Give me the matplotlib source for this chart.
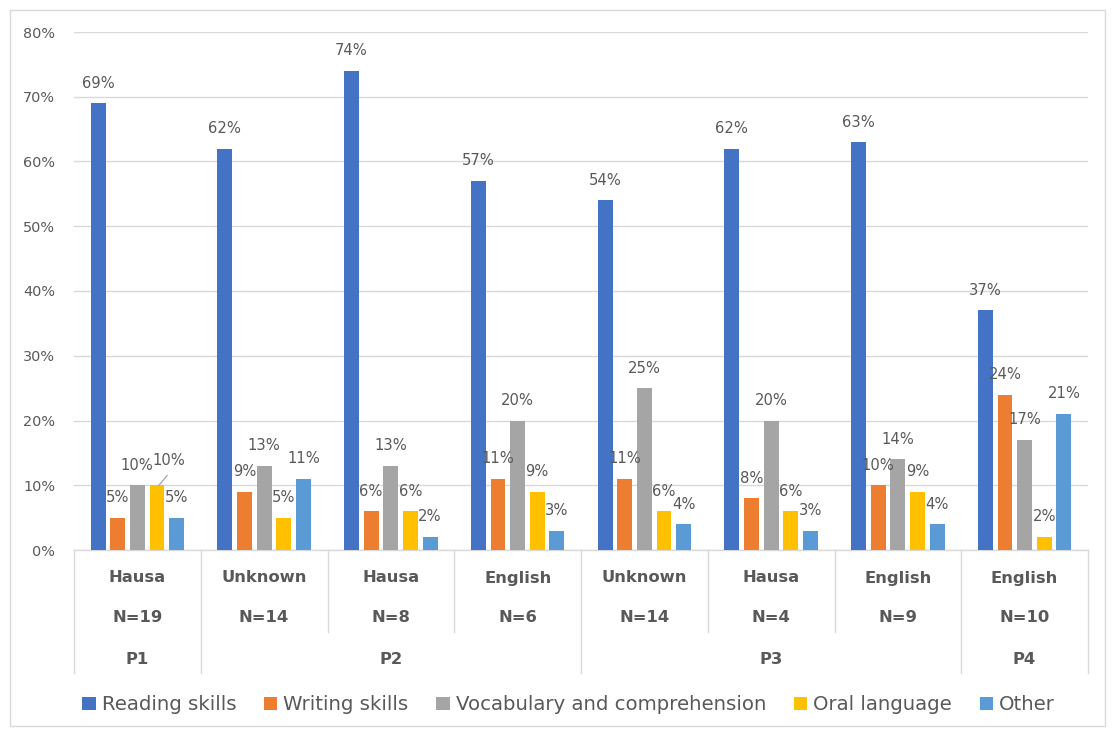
import matplotlib
matplotlib.use("Agg")
import matplotlib.pyplot as plt
from matplotlib.patches import Rectangle
import numpy as np

# ---- data ----
languages = ["Hausa", "Unknown", "Hausa", "English", "Unknown", "Hausa", "English", "English"]
sample_sizes = ["N=19", "N=14", "N=8", "N=6", "N=14", "N=4", "N=9", "N=10"]
grades = ["P1", "P2", "P3", "P4"]
grade_spans = [(0, 1), (1, 4), (4, 7), (7, 8)]  # category index ranges per grade

series_names = ["Reading skills", "Writing skills", "Vocabulary and comprehension",
                "Oral language", "Other"]
reading = [69, 62, 74, 57, 54, 62, 63, 37]
writing = [5, 9, 6, 11, 11, 8, 10, 24]
vocabulary = [10, 13, 13, 20, 25, 20, 14, 17]
oral = [10, 5, 6, 9, 6, 6, 9, 2]
other = [5, 11, 2, 3, 4, 3, 4, 21]
colors = ["#4472C4", "#ED7D31", "#A5A5A5", "#FFC000", "#5B9BD5"]

series = [reading, writing, vocabulary, oral, other]

TXT = "#595959"
GRID = "#D9D9D9"

W, H = 1115, 731
plt.rcParams["font.family"] = ["DejaVu Sans"]
fig = plt.figure(figsize=(W / 100, H / 100), dpi=100)

# chart frame
fig.patches.append(Rectangle((10 / W, 1 - 726 / H), 1095 / W, 716 / H,
                             transform=fig.transFigure, fill=False,
                             edgecolor="#D9D9D9", linewidth=1.0))

left, right, bottom, top = 74, 1088, 550, 32
ax = fig.add_axes([left / W, 1 - bottom / H, (right - left) / W, (bottom - top) / H])

n = len(languages)
x = np.arange(n)
pitch = 0.155
width = 0.118
LBL = 10.6

for i, (vals, col) in enumerate(zip(series, colors)):
    xs = x + (i - 2) * pitch
    ax.bar(xs, vals, width=width, color=col, label=series_names[i], zorder=3)
    for j, (xi, v) in enumerate(zip(xs, vals)):
        if j == 0 and i == 3:
            # label nudged aside, with a leader line back to its bar
            ax.plot([xi + 0.015, xi + 0.08], [v, v + 1.5], color="#A6A6A6",
                    lw=0.9, zorder=4, clip_on=False)
            ax.text(xi + 0.095, v + 3.85, f"{v}%", ha="center", va="center",
                    fontsize=LBL, color=TXT, zorder=4)
        else:
            ax.text(xi, v + 3.1, f"{v}%", ha="center", va="center",
                    fontsize=LBL, color=TXT, zorder=4)

ax.set_xlim(-0.5, n - 0.5)
ax.set_ylim(0, 80)
ax.set_yticks(np.arange(0, 81, 10))
ax.set_yticklabels([f"{t}%" for t in range(0, 81, 10)], fontsize=10.4, color=TXT)
ax.yaxis.grid(True, color=GRID, linewidth=1.0, zorder=0)
ax.set_axisbelow(True)
ax.tick_params(axis="y", length=0, pad=13.5)
ax.tick_params(axis="x", length=0, labelbottom=False)
for s in ["top", "right", "left"]:
    ax.spines[s].set_visible(False)
ax.spines["bottom"].set_color(GRID)
ax.spines["bottom"].set_linewidth(1.0)

# multi-level category axis drawn beneath the plot
axh = bottom - top
def fy(py):
    return (bottom - py) / axh

tr = ax.get_xaxis_transform()
inner_bottom = fy(632)
outer_bottom = fy(673)
grade_edges = {s for s, e in grade_spans} | {e for s, e in grade_spans}
for k in range(n + 1):
    yb = outer_bottom if k in grade_edges else inner_bottom
    ax.plot([k - 0.5, k - 0.5], [0, yb], transform=tr, color=GRID,
            linewidth=1.0, clip_on=False)

CAT = 11.8
for j in range(n):
    ax.text(j, fy(578), languages[j], transform=tr, ha="center", va="center",
            fontsize=CAT, color=TXT, fontweight="bold")
    ax.text(j, fy(618), sample_sizes[j], transform=tr, ha="center", va="center",
            fontsize=CAT, color=TXT, fontweight="bold")
for g, (s, e) in zip(grades, grade_spans):
    ax.text((s + e - 1) / 2, fy(660), g, transform=tr, ha="center", va="center",
            fontsize=CAT, color=TXT, fontweight="bold")

leg = fig.legend(loc="center", bbox_to_anchor=(568.5 / W, 1 - 705 / H), ncol=5,
                 frameon=False, fontsize=14.2, handlelength=0.69, handleheight=0.69,
                 handletextpad=0.3, columnspacing=1.4, labelcolor=TXT,
                 borderpad=0.0)

fig.savefig("out.png", dpi=100, facecolor="white")
